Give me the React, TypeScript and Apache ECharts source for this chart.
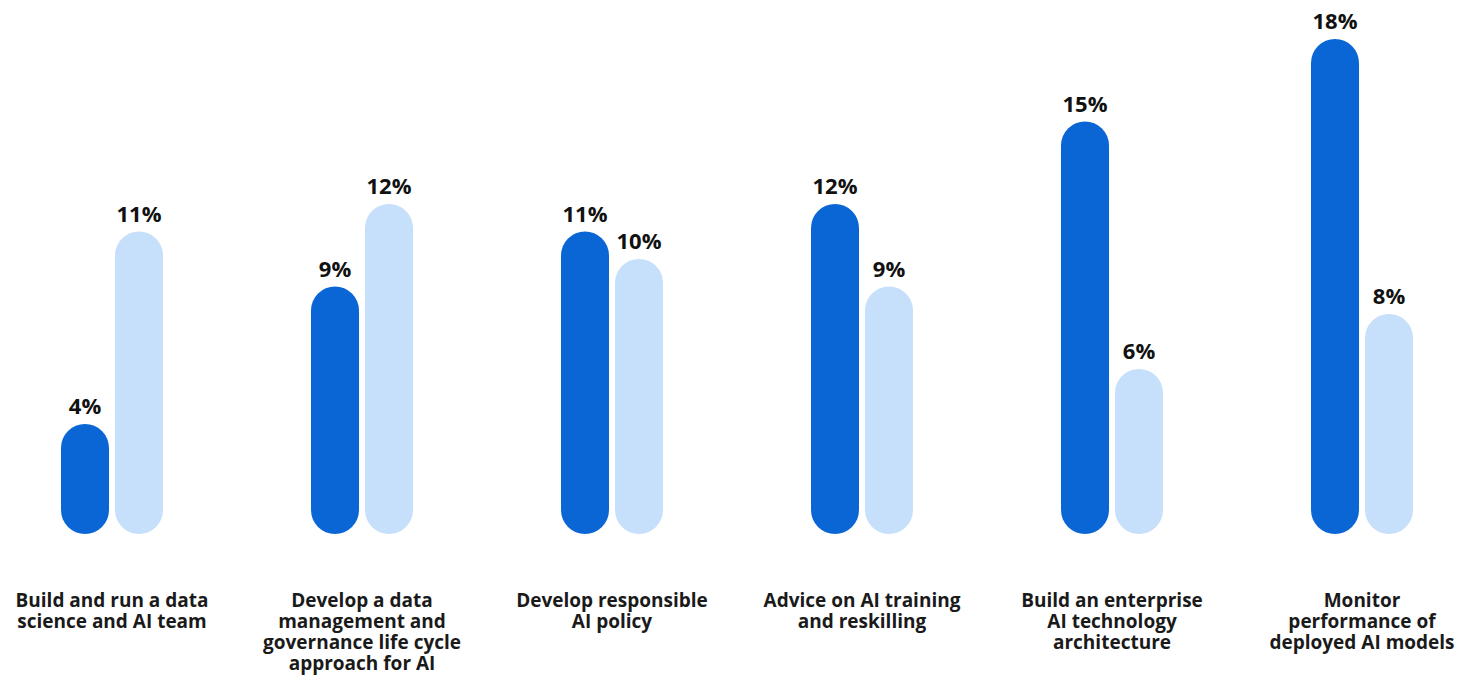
import React, { useEffect, useRef } from "react";
import * as echarts from "echarts";

const categories = [
  "Build and run a data\nscience and AI team",
  "Develop a data\nmanagement and\ngovernance life cycle\napproach for AI",
  "Develop responsible\nAI policy",
  "Advice on AI training\nand reskilling",
  "Build an enterprise\nAI technology\narchitecture",
  "Monitor\nperformance of\ndeployed AI models",
];
const seriesDark = [4, 9, 11, 12, 15, 18];
const seriesLight = [11, 12, 10, 9, 6, 8];

const FONT = "'Open Sans', 'Noto Sans', sans-serif";

export default function App() {
  const ref = useRef<HTMLDivElement>(null);
  useEffect(() => {
    if (!ref.current) return;
    const chart = echarts.init(ref.current, undefined, { renderer: "svg" });
    const label = {
      show: true,
      position: "top" as const,
      distance: 8,
      formatter: "{c}%",
      color: "#111111",
      fontFamily: FONT,
      fontWeight: 700,
      fontSize: 22,
    };
    chart.setOption({
      animation: false,
      backgroundColor: "#ffffff",
      grid: { left: 0, right: 0, top: 39, bottom: 144, containLabel: false },
      xAxis: {
        type: "category",
        data: categories,
        axisLine: { show: false },
        axisTick: { show: false },
        axisLabel: {
          interval: 0,
          margin: 55,
          color: "#1a1a1a",
          fontFamily: FONT,
          fontWeight: 700,
          fontSize: 19,
          lineHeight: 21,
          align: "center",
        },
      },
      yAxis: {
        type: "value",
        min: 0,
        max: 18,
        show: false,
        splitLine: { show: false },
      },
      series: [
        {
          type: "bar",
          data: seriesDark,
          barWidth: 48,
          barGap: "12.5%",
          itemStyle: { color: "#0A66D4", borderRadius: 24 },
          label,
        },
        {
          type: "bar",
          data: seriesLight,
          barWidth: 48,
          itemStyle: { color: "#C6DFFB", borderRadius: 24 },
          label,
        },
      ],
    });
    return () => chart.dispose();
  }, []);
  return (
    <div
      style={{ position: "fixed", left: 0, top: 0, width: 1460, height: 678, overflow: "hidden", background: "#fff" }}
    >
      <div
        ref={ref}
        style={{ position: "absolute", left: -13, top: 0, width: 1500, height: 678 }}
      />
    </div>
  );
}
